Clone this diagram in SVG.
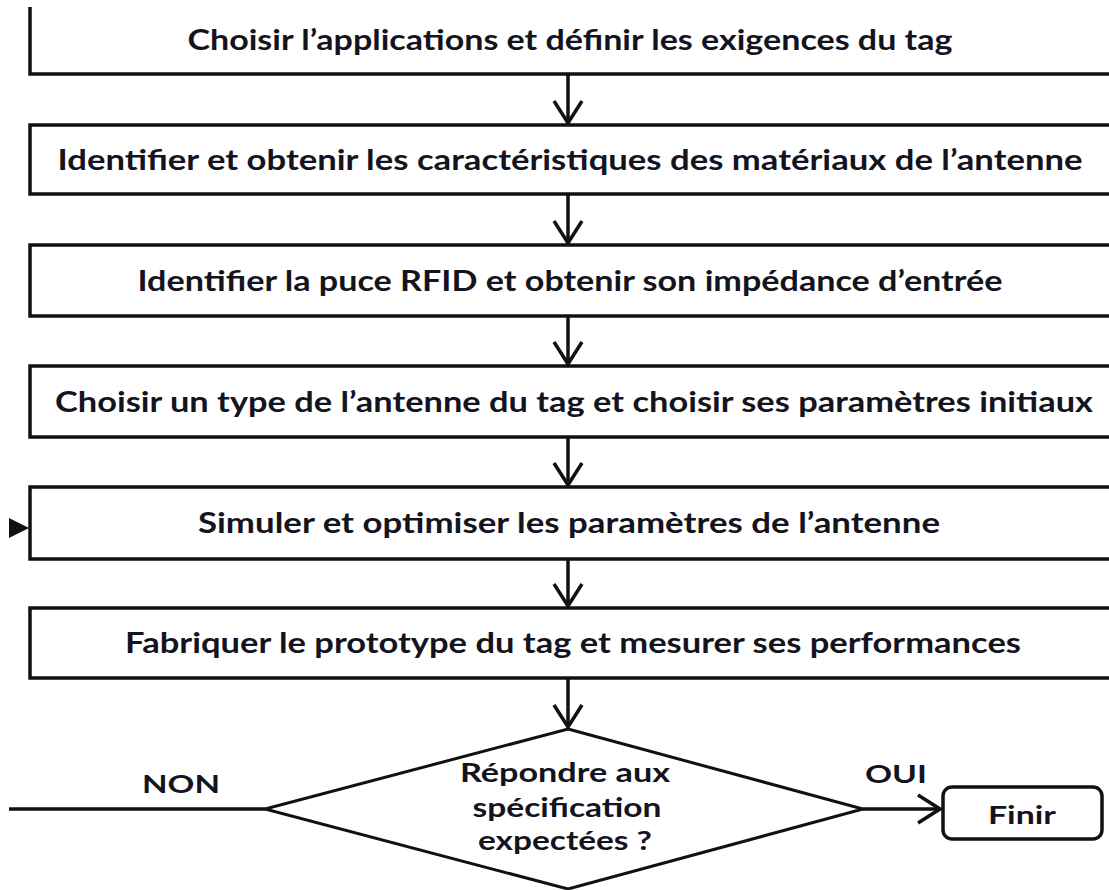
<svg xmlns="http://www.w3.org/2000/svg" width="1109" height="890" viewBox="0 0 1109 890">
<style>
.box{fill:#fff;stroke:#111;stroke-width:3.5}
.t{font-family:Lato,"Open Sans","Liberation Sans",sans-serif;font-weight:bold;font-size:28px;fill:#141420;text-anchor:middle}
.d{font-size:26px}
.s{font-size:24px}
.c{fill:none;stroke:#111;stroke-width:3.5}
</style>
<defs>
<marker id="chev" viewBox="0 0 26 32" refX="23" refY="16" markerWidth="26" markerHeight="32" markerUnits="userSpaceOnUse" orient="auto">
<path d="M1,2 L23,16 L1,30" fill="none" stroke="#111" stroke-width="3.5" stroke-linejoin="miter"/>
</marker>
</defs>
<rect width="1109" height="890" fill="#fff"/>
<g id="connectors">
<path class="c" d="M568,74 V123" marker-end="url(#chev)"/>
<path class="c" d="M568,194 V243" marker-end="url(#chev)"/>
<path class="c" d="M568,316 V364" marker-end="url(#chev)"/>
<path class="c" d="M568,437 V485" marker-end="url(#chev)"/>
<path class="c" d="M568,559 V606" marker-end="url(#chev)"/>
<path class="c" d="M568,678 V727" marker-end="url(#chev)"/>
<path class="c" d="M863,809 H940" marker-end="url(#chev)"/>
<path class="c" d="M9,809 H265"/>
<polygon points="9,518 29,528 9,538" fill="#111"/>
<text class="t s" x="181" y="793" textLength="78" lengthAdjust="spacingAndGlyphs">NON</text>
<text class="t s" x="896" y="783" textLength="62" lengthAdjust="spacingAndGlyphs">OUI</text>
</g>
<g id="n1">
<path d="M30,7 V74 H1115" fill="none" stroke="#111" stroke-width="3.5"/>
<text class="t" x="570" y="50" textLength="765" lengthAdjust="spacingAndGlyphs">Choisir l’applications et définir les exigences du tag</text>
</g>
<g id="n2">
<rect class="box" x="30" y="125" width="1085" height="69"/>
<text class="t" x="570" y="170" textLength="1025" lengthAdjust="spacingAndGlyphs">Identifier et obtenir les caractéristiques  des matériaux de l’antenne</text>
</g>
<g id="n3">
<rect class="box" x="30" y="245" width="1085" height="71"/>
<text class="t" x="570" y="291" textLength="865" lengthAdjust="spacingAndGlyphs">Identifier la puce RFID et obtenir son impédance d’entrée</text>
</g>
<g id="n4">
<rect class="box" x="30" y="366" width="1085" height="71"/>
<text class="t" x="574" y="412" textLength="1038" lengthAdjust="spacingAndGlyphs">Choisir un type de l’antenne du tag et choisir ses paramètres initiaux</text>
</g>
<g id="n5">
<rect class="box" x="30" y="487" width="1085" height="72"/>
<text class="t" x="569" y="533" textLength="742" lengthAdjust="spacingAndGlyphs">Simuler et optimiser les paramètres de l’antenne</text>
</g>
<g id="n6">
<rect class="box" x="30" y="608" width="1085" height="70"/>
<text class="t" x="573" y="653" textLength="896" lengthAdjust="spacingAndGlyphs">Fabriquer le prototype du tag et mesurer ses performances</text>
</g>
<g id="decision">
<polygon points="568,729 863,809 568,889 265,809" fill="#fff" stroke="#111" stroke-width="3"/>
<text class="t d" x="565" y="782" textLength="210" lengthAdjust="spacingAndGlyphs">Répondre aux</text>
<text class="t d" x="567" y="817" textLength="189" lengthAdjust="spacingAndGlyphs">spécification</text>
<text class="t d" x="565" y="850" textLength="174" lengthAdjust="spacingAndGlyphs">expectées ?</text>
</g>
<g id="finir">
<rect x="943" y="787" width="159" height="52" rx="9" fill="#fff" stroke="#111" stroke-width="3.5"/>
<text class="t s" x="1022" y="824" textLength="68" lengthAdjust="spacingAndGlyphs">Finir</text>
</g>
</svg>
